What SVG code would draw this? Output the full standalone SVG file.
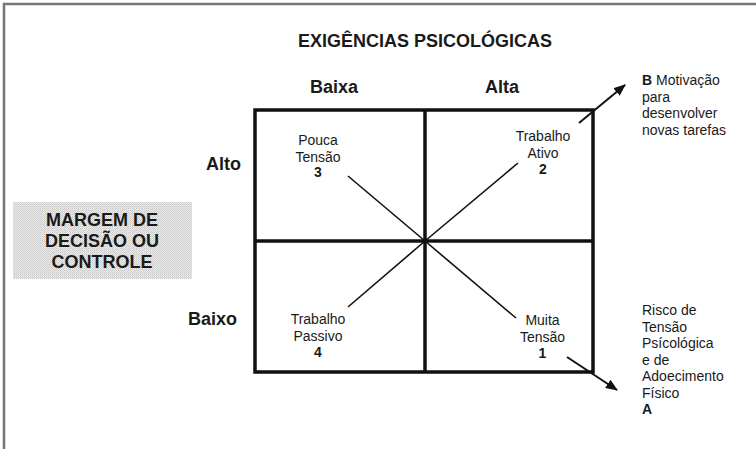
<svg xmlns="http://www.w3.org/2000/svg" width="756" height="449" viewBox="0 0 756 449">
<defs>
<style>
text{font-family:"Liberation Sans",Arial,sans-serif;fill:#1a1a1a}
.h{font-size:18px;font-weight:bold}
.c{font-size:14px;text-anchor:middle}
.r{font-size:14px}
.b{font-weight:bold}
.grid{fill:none;stroke:#111;stroke-width:3.5}
.diag{stroke:#111;stroke-width:1.6;fill:none}
.arr{stroke:#111;stroke-width:2;fill:none;marker-end:url(#ah)}
</style>
<marker id="ah" viewBox="0 0 12 10" refX="11" refY="5" markerWidth="12" markerHeight="10" markerUnits="userSpaceOnUse" orient="auto">
<path d="M0,0 L12,5 L0,10 Z" fill="#111"/>
</marker>
<pattern id="stip" width="2" height="2" patternUnits="userSpaceOnUse">
<rect width="2" height="2" fill="#ececec"/>
<rect width="1" height="1" fill="#c8c8c8"/>
<rect x="1" y="1" width="1" height="1" fill="#d2d2d2"/>
</pattern>
</defs>
<rect width="756" height="449" fill="#fff"/>
<path d="M4,449 V4 H756" fill="none" stroke="#777" stroke-width="2.5"/>

<g id="title"><text class="h" x="425" y="47" text-anchor="middle">EXIGÊNCIAS PSICOLÓGICAS</text></g>
<g id="col-baixa"><text class="h" x="334" y="93" text-anchor="middle">Baixa</text></g>
<g id="col-alta"><text class="h" x="502" y="93" text-anchor="middle">Alta</text></g>
<g id="row-alto"><text class="h" x="206" y="170">Alto</text></g>
<g id="row-baixo"><text class="h" x="188" y="325">Baixo</text></g>

<g id="margem">
<rect x="13" y="202" width="179" height="77" fill="url(#stip)"/>
<text class="h" x="102" y="226" text-anchor="middle">MARGEM DE</text>
<text class="h" x="102" y="247" text-anchor="middle">DECISÃO OU</text>
<text class="h" x="102" y="268" text-anchor="middle">CONTROLE</text>
</g>

<g id="grid">
<rect class="grid" x="255" y="110" width="338" height="262"/>
<line class="grid" x1="425" y1="110" x2="425" y2="372"/>
<line class="grid" x1="255" y1="241" x2="593" y2="241"/>
</g>

<g id="q3">
<text class="c" x="318" y="145">Pouca</text>
<text class="c" x="318" y="161.5">Tensão</text>
<text class="c b" x="318" y="177">3</text>
</g>
<g id="q2">
<text class="c" x="543" y="141">Trabalho</text>
<text class="c" x="543" y="157.5">Ativo</text>
<text class="c b" x="543" y="174">2</text>
</g>
<g id="q4">
<text class="c" x="318" y="324">Trabalho</text>
<text class="c" x="318" y="340.5">Passivo</text>
<text class="c b" x="318" y="357">4</text>
</g>
<g id="q1">
<text class="c" x="542.5" y="325">Muita</text>
<text class="c" x="542.5" y="341.5">Tensão</text>
<text class="c b" x="542.5" y="358">1</text>
</g>

<g id="label-b">
<text class="r" x="642" y="85"><tspan class="b">B</tspan> Motivação</text>
<text class="r" x="642" y="101.5">para</text>
<text class="r" x="642" y="118">desenvolver</text>
<text class="r" x="642" y="134.5">novas tarefas</text>
</g>
<g id="label-a">
<text class="r" x="642" y="315">Risco de</text>
<text class="r" x="642" y="331.5">Tensão</text>
<text class="r" x="642" y="348">Psícológica</text>
<text class="r" x="642" y="364.5">e de</text>
<text class="r" x="642" y="381">Adoecimento</text>
<text class="r" x="642" y="397.5">Físico</text>
<text class="r b" x="642" y="414">A</text>
</g>

<g id="connectors">
<line class="diag" x1="348" y1="176" x2="425" y2="241"/>
<line class="diag" x1="518" y1="163" x2="425" y2="241"/>
<line class="diag" x1="348" y1="307" x2="425" y2="241"/>
<line class="diag" x1="516" y1="318" x2="425" y2="241"/>
<line class="arr" x1="579" y1="123" x2="625" y2="85"/>
<line class="arr" x1="567" y1="357" x2="617" y2="390"/>
</g>
</svg>
